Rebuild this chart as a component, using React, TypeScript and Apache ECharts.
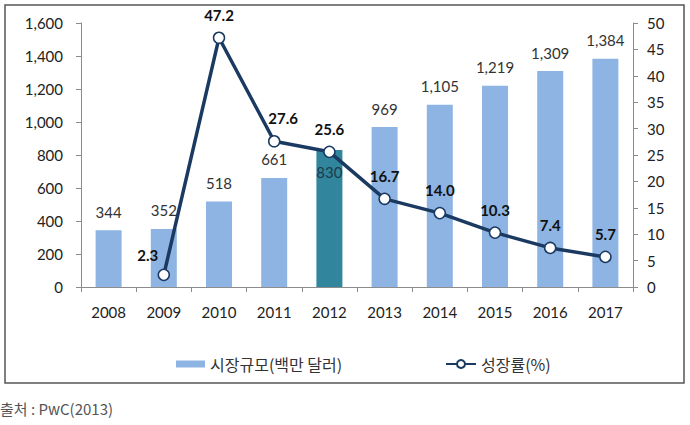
import React, { useEffect, useRef } from "react";
import * as echarts from "echarts";

const years = ["2008", "2009", "2010", "2011", "2012", "2013", "2014", "2015", "2016", "2017"];
const marketSize = [344, 352, 518, 661, 830, 969, 1105, 1219, 1309, 1384];
const growthRate = [null, 2.3, 47.2, 27.6, 25.6, 16.7, 14.0, 10.3, 7.4, 5.7];
const leftTicks = [0, 1600, 200];
const rightTicks = [0, 50, 5];
const barName = "시장규모(백만 달러)";
const lineName = "성장률(%)";
const sourceText = "출처 : PwC(2013)";
const highlightIndex = 4;

const NUM_FONT = "Lato, 'Noto Sans', sans-serif";
const KR_FONT = "'Noto Sans CJK KR', 'Noto Sans', sans-serif";
const BAR_COLOR = "#8db4e2";
const HIGHLIGHT_COLOR = "#31859c";
const LINE_COLOR = "#1b3a62";
const AXIS_COLOR = "#8c8c8c";

const lineLabelOffsets: Record<number, [number, number]> = {
  1: [-16, 3],
  3: [9, -1],
};

export default function App() {
  const ref = useRef<HTMLDivElement>(null);
  useEffect(() => {
    if (!ref.current) return;
    const chart = echarts.init(ref.current, null, { renderer: "svg" });
    const barData = marketSize.map((v, i) =>
      i === highlightIndex
        ? {
            value: v,
            itemStyle: { color: HIGHLIGHT_COLOR },
            label: { position: "insideTop", distance: 14, color: "#1d3b4c" },
          }
        : { value: v }
    );
    const lineData = growthRate.map((v, i) =>
      v === null
        ? null
        : lineLabelOffsets[i]
        ? { value: v, label: { offset: lineLabelOffsets[i] } }
        : { value: v }
    );
    chart.setOption({
      animation: false,
      grid: { left: 81, right: 57, top: 23, bottom: 138 },
      legend: [
        {
          data: [{ name: barName, icon: "rect" }],
          left: 171,
          top: 351,
          itemWidth: 29,
          itemHeight: 7,
          itemGap: 6,
          textStyle: { fontFamily: KR_FONT, fontSize: 16, color: "#333" },
        },
        {
          data: [lineName],
          left: 440,
          top: 351,
          itemWidth: 30,
          itemHeight: 10,
          textStyle: { fontFamily: KR_FONT, fontSize: 16, color: "#333" },
        },
      ],
      xAxis: {
        type: "category",
        data: years,
        axisLine: { lineStyle: { color: AXIS_COLOR, width: 1 } },
        axisTick: { show: true, length: 5, lineStyle: { color: AXIS_COLOR } },
        axisLabel: { fontFamily: NUM_FONT, fontSize: 15, color: "#222", margin: 17 },
      },
      yAxis: [
        {
          type: "value",
          min: leftTicks[0],
          max: leftTicks[1],
          interval: leftTicks[2],
          axisLine: { show: true, lineStyle: { color: AXIS_COLOR } },
          axisTick: { show: true, length: 5, lineStyle: { color: AXIS_COLOR } },
          splitLine: { show: false },
          axisLabel: {
            fontFamily: NUM_FONT,
            fontSize: 15,
            color: "#222",
            margin: 18,
            formatter: (v: number) => v.toLocaleString("en-US"),
          },
        },
        {
          type: "value",
          min: rightTicks[0],
          max: rightTicks[1],
          interval: rightTicks[2],
          position: "right",
          alignTicks: false,
          axisLine: { show: true, lineStyle: { color: AXIS_COLOR } },
          axisTick: { show: true, length: 5, lineStyle: { color: AXIS_COLOR } },
          splitLine: { show: false },
          axisLabel: { fontFamily: NUM_FONT, fontSize: 15, color: "#222", margin: 14 },
        },
      ],
      series: [
        {
          name: barName,
          type: "bar",
          data: barData,
          barWidth: 26,
          itemStyle: { color: BAR_COLOR },
          label: {
            show: true,
            position: "top",
            distance: 11,
            fontFamily: NUM_FONT,
            fontSize: 15,
            color: "#333",
            formatter: (p: any) => Number(p.value).toLocaleString("en-US"),
          },
          z: 1,
        },
        {
          name: lineName,
          type: "line",
          yAxisIndex: 1,
          data: lineData,
          symbol: "circle",
          symbolSize: 11,
          showAllSymbol: true,
          connectNulls: false,
          lineStyle: { color: LINE_COLOR, width: 3.5 },
          itemStyle: { color: "#ffffff", borderColor: LINE_COLOR, borderWidth: 1.5 },
          label: {
            show: true,
            position: "top",
            distance: 9,
            fontFamily: NUM_FONT,
            fontSize: 15,
            fontWeight: "bold",
            color: "#111",
            formatter: (p: any) => Number(p.value).toFixed(1),
          },
          z: 3,
        },
      ],
      graphic: [
        {
          type: "rect",
          shape: { x: 5, y: 5, width: 679, height: 378 },
          style: { fill: "none", stroke: "#555", lineWidth: 1.5 },
          silent: true,
        },
        {
          type: "text",
          left: 0,
          top: 401,
          style: { text: sourceText, fontFamily: KR_FONT, fontSize: 15, fill: "#555" },
        },
      ],
    });
    return () => chart.dispose();
  }, []);
  return (
    <div
      ref={ref}
      style={{ position: "fixed", left: 0, top: 0, width: 690, height: 425, background: "#fff" }}
    />
  );
}
